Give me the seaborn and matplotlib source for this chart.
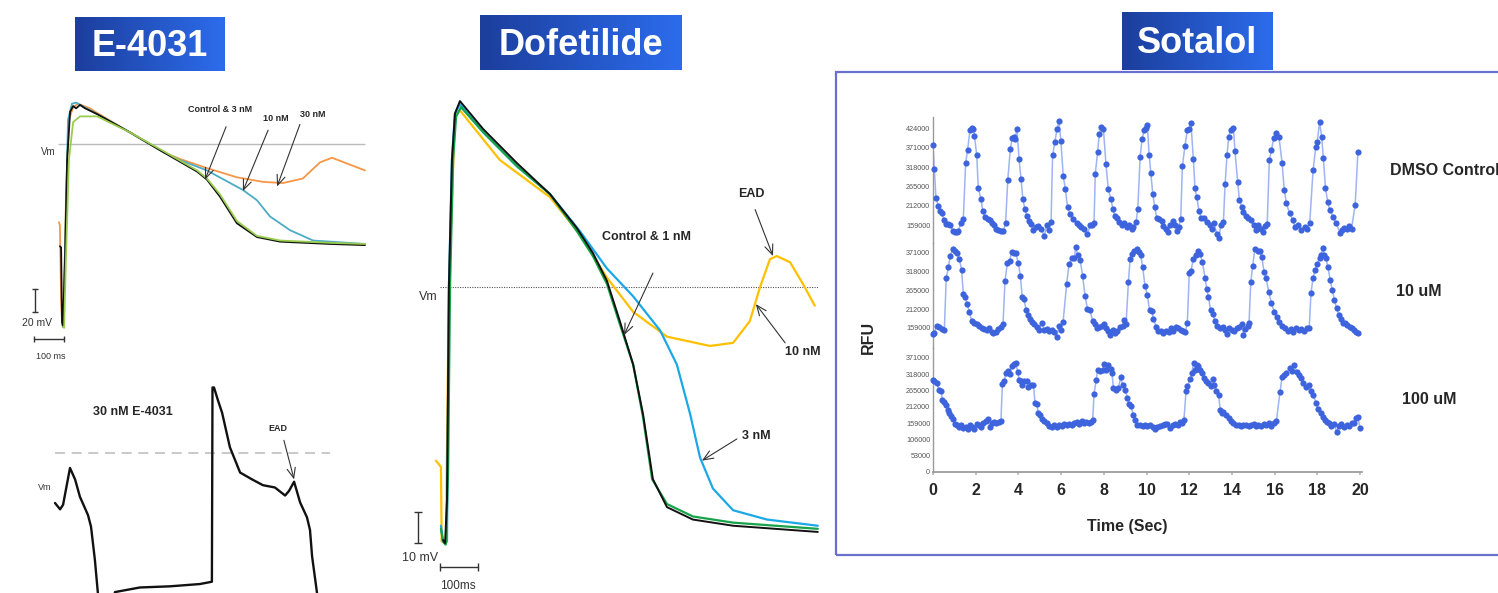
import numpy as np
import pandas as pd
import matplotlib
matplotlib.use("Agg")
import matplotlib.pyplot as plt
from matplotlib.patches import Rectangle
from matplotlib.colors import LinearSegmentedColormap
import seaborn as sns

W, H = 1498, 593

# ---------------- E-4031 traces (time ms, voltage mV, Vm line = 0 mV) ----------------
e4031_ctrl_t = [-7, -3, 0, 3, 10, 17, 27, 37, 47, 60, 77, 117, 227, 337, 450, 483, 527, 583, 650, 727, 893, 1010]
e4031_ctrl_v = [-89, -90, -155, -159, -101, -14, 28, 33, 31, 34, 31, 26, 10, -7, -24, -31, -46, -69, -81, -85, -87, -88]
e4031_3nm_t = [3, 7, 13, 23, 37, 60, 117, 227, 337, 450, 483, 527, 583, 650, 727, 893, 1010]
e4031_3nm_v = [-159, -160, -101, -14, 19, 24, 24, 10, -6, -23, -30, -44, -67, -80, -84, -86, -87]
e4031_10nm_t = [3, 10, 20, 33, 47, 67, 117, 227, 337, 393, 483, 603, 650, 693, 760, 837, 1010]
e4031_10nm_v = [-159, -92, 21, 35, 36, 33, 26, 10, -7, -14, -23, -40, -49, -63, -75, -84, -87]
e4031_30nm_t = [-10, -7, -3, 0, 7, 13, 23, 37, 53, 93, 117, 227, 337, 393, 483, 583, 670, 737, 803, 860, 900, 950, 1010]
e4031_30nm_v = [-68, -71, -135, -155, -135, -49, 21, 32, 35, 31, 27, 10, -7, -13, -21, -29, -33, -34, -30, -16, -12, -17, -23]

# 30 nM E-4031 trace with EAD
e4031_ead_t = [0, 17, 27, 50, 67, 83, 110, 120, 133, 143, 150, 190, 200, 283, 383, 483, 523, 525, 530, 543,
               557, 583, 617, 657, 693, 733, 767, 780, 797, 817, 840, 850, 857, 873, 877]
e4031_ead_v = [-43.5, -49, -45, -13, -23, -38, -54, -64, -93, -122, -132, -132, -121, -117, -116, -114, -112, 57, 57, 46,
               35, 5, -17, -23, -28, -30, -37, -33, -25, -43, -56, -67, -90, -121, -132]

# ---------------- Dofetilide traces ----------------
dof_ctrl_t = [-10.5, -5, 0, 5, 13, 21, 34, 95, 184, 271, 342, 384, 421, 455, 490, 516, 542, 579, 647, 753, 976]
dof_ctrl_v = [-81.6, -82.6, -68.7, 0, 41, 56, 60, 51, 40, 30, 19, 11, 2, -11, -25, -41, -62, -71, -75, -77, -79]
dof_1nm_t = [-16, -10.5, -3, 3, 8, 16, 24, 37, 95, 184, 271, 342, 384, 421, 455, 490, 516, 540, 579, 647, 753, 976]
dof_1nm_v = [-78, -82, -83, -59, 0, 41, 55, 58, 50, 39, 30, 18, 10, 1, -12, -25, -42, -62, -70, -74, -76, -78]
dof_3nm_t = [-16, -10.5, -5, 0, 5, 13, 21, 34, 95, 184, 271, 350, 421, 490, 561, 605, 640, 666, 700, 753, 842, 976]
dof_3nm_v = [-77, -82, -83, -82, 0, 41, 56, 59, 50, 39, 30, 18, 6, -3, -14, -25, -41, -55, -65, -72, -75, -77]
dof_10nm_t = [-29, -16, -14, -3, 5, 21, 34, 139, 271, 350, 421, 490, 579, 692, 753, 797, 824, 850, 868, 903, 937, 968]
dof_10nm_v = [-56, -58, -82, -83, 0, 56, 57, 41, 29, 17, 3, -8, -16, -19, -18, -11, 0, 9, 10, 8, 1, -6]

# ---------------- Sotalol calcium transients: (time s, RFU in thousands) ----------------
dmso = [(0.0, 380), (0.06, 313), (0.14, 234), (0.25, 212), (0.33, 198), (0.40, 193), (0.53, 173), (0.62, 162),
        (0.70, 163), (0.80, 160), (0.95, 142), (1.03, 140), (1.11, 141), (1.19, 143), (1.31, 165), (1.42, 177),
        (1.53, 331), (1.62, 365), (1.73, 420), (1.81, 426), (1.89, 424), (1.94, 404), (2.05, 351), (2.12, 261),
        (2.25, 230), (2.33, 197), (2.44, 182), (2.56, 175), (2.67, 173), (2.78, 164), (2.87, 159), (2.95, 150),
        (3.06, 145), (3.18, 142), (3.29, 143), (3.40, 165), (3.50, 282), (3.62, 367), (3.71, 398), (3.78, 402),
        (3.84, 395), (3.93, 424), (4.03, 340), (4.12, 287), (4.21, 230), (4.30, 205), (4.39, 185), (4.50, 170),
        (4.59, 163), (4.70, 145), (4.81, 154), (4.93, 157), (5.06, 150), (5.21, 130), (5.32, 159), (5.43, 145),
        (5.53, 169), (5.60, 351), (5.71, 388), (5.81, 424), (5.90, 444), (5.99, 389), (6.10, 294), (6.20, 258),
        (6.30, 209), (6.41, 191), (6.57, 175), (6.73, 164), (6.84, 159), (6.95, 155), (7.07, 148), (7.23, 134),
        (7.36, 159), (7.45, 159), (7.54, 164), (7.60, 301), (7.71, 360), (7.79, 410), (7.87, 428), (7.98, 424),
        (8.10, 326), (8.21, 258), (8.33, 232), (8.42, 205), (8.51, 185), (8.60, 180), (8.73, 168), (8.84, 159),
        (8.95, 164), (9.07, 155), (9.20, 159), (9.31, 150), (9.38, 155), (9.51, 168), (9.59, 203), (9.70, 347),
        (9.79, 395), (9.89, 420), (9.96, 426), (10.04, 433), (10.12, 353), (10.20, 303), (10.29, 246), (10.38, 209),
        (10.48, 179), (10.60, 175), (10.71, 170), (10.79, 157), (10.91, 150), (11.01, 141), (11.10, 159), (11.23, 170),
        (11.34, 159), (11.42, 143), (11.51, 155), (11.60, 177), (11.68, 322), (11.80, 377), (11.91, 420), (12.00, 423),
        (12.08, 439), (12.19, 342), (12.27, 260), (12.35, 237), (12.46, 197), (12.57, 179), (12.70, 179), (12.82, 168),
        (12.95, 161), (13.06, 150), (13.17, 164), (13.29, 134), (13.38, 124), (13.48, 159), (13.60, 168), (13.68, 273),
        (13.77, 353), (13.85, 402), (13.94, 420), (14.07, 425), (14.14, 363), (14.27, 277), (14.35, 228), (14.46, 209),
        (14.54, 196), (14.66, 185), (14.77, 179), (14.88, 173), (15.01, 159), (15.12, 145), (15.24, 159), (15.35, 150),
        (15.45, 140), (15.55, 158), (15.65, 162), (15.75, 338), (15.85, 365), (15.95, 398), (16.05, 413), (16.20, 402),
        (16.35, 329), (16.45, 256), (16.55, 219), (16.70, 192), (16.85, 174), (16.95, 155), (17.10, 160), (17.25, 146),
        (17.40, 155), (17.52, 150), (17.64, 164), (17.80, 311), (17.93, 375), (18.00, 388), (18.10, 443), (18.20, 402),
        (18.28, 344), (18.38, 261), (18.48, 224), (18.58, 201), (18.73, 183), (18.87, 165), (19.07, 138), (19.17, 145),
        (19.27, 152), (19.40, 148), (19.50, 156), (19.60, 150), (19.77, 215), (19.90, 361)]

sotalol_10um = [(0.0, 142), (0.06, 146), (0.17, 166), (0.28, 161), (0.40, 156), (0.53, 153), (0.62, 301), (0.72, 330),
                (0.81, 363), (0.92, 381), (1.03, 377), (1.12, 371), (1.23, 354), (1.34, 323), (1.42, 255), (1.50, 246),
                (1.61, 226), (1.70, 204), (1.81, 180), (1.92, 172), (2.05, 171), (2.16, 166), (2.28, 159), (2.41, 156),
                (2.52, 153), (2.62, 159), (2.75, 149), (2.83, 144), (2.94, 149), (3.06, 156), (3.17, 163), (3.28, 171),
                (3.37, 291), (3.48, 342), (3.59, 349), (3.68, 373), (3.78, 371), (3.87, 371), (4.00, 342), (4.09, 305),
                (4.18, 246), (4.26, 240), (4.36, 211), (4.47, 195), (4.54, 185), (4.65, 175), (4.75, 169), (4.86, 161),
                (4.97, 153), (5.09, 172), (5.21, 153), (5.32, 156), (5.43, 151), (5.56, 153), (5.67, 149), (5.79, 134),
                (5.90, 166), (5.99, 153), (6.09, 175), (6.26, 284), (6.37, 339), (6.50, 356), (6.62, 358), (6.68, 387),
                (6.78, 365), (6.89, 352), (7.01, 305), (7.12, 250), (7.23, 214), (7.35, 209), (7.48, 178), (7.59, 169),
                (7.70, 159), (7.79, 163), (7.90, 166), (8.01, 171), (8.10, 159), (8.21, 151), (8.29, 140), (8.42, 153),
                (8.53, 146), (8.64, 151), (8.76, 161), (8.88, 166), (8.96, 182), (9.04, 169), (9.15, 288), (9.23, 354),
                (9.32, 368), (9.43, 375), (9.54, 381), (9.64, 373), (9.73, 365), (9.82, 330), (9.93, 277), (10.04, 252),
                (10.14, 209), (10.25, 207), (10.32, 185), (10.45, 163), (10.56, 151), (10.67, 151), (10.79, 146), (10.92, 151),
                (11.03, 149), (11.14, 159), (11.26, 151), (11.38, 163), (11.49, 159), (11.60, 153), (11.72, 151), (11.82, 149),
                (11.91, 172), (12.00, 313), (12.08, 320), (12.19, 354), (12.32, 365), (12.43, 375), (12.51, 368), (12.62, 344),
                (12.74, 301), (12.82, 269), (12.90, 246), (13.00, 209), (13.10, 198), (13.21, 180), (13.32, 166), (13.45, 159),
                (13.57, 163), (13.68, 153), (13.76, 142), (13.88, 159), (13.99, 153), (14.10, 151), (14.23, 159), (14.35, 163),
                (14.46, 171), (14.54, 140), (14.62, 156), (14.74, 166), (14.80, 172), (14.88, 288), (14.97, 334), (15.07, 381),
                (15.20, 375), (15.30, 375), (15.40, 360), (15.50, 318), (15.60, 299), (15.72, 262), (15.85, 229), (15.98, 205),
                (16.10, 190), (16.20, 177), (16.35, 165), (16.50, 158), (16.62, 150), (16.75, 155), (16.88, 148), (17.00, 160),
                (17.12, 152), (17.25, 157), (17.38, 150), (17.50, 158), (17.62, 160), (17.70, 258), (17.80, 300), (17.90, 323),
                (18.00, 340), (18.10, 357), (18.18, 365), (18.25, 385), (18.32, 365), (18.40, 357), (18.50, 330), (18.60, 295),
                (18.70, 265), (18.80, 238), (18.90, 215), (19.00, 196), (19.10, 185), (19.20, 173), (19.30, 172), (19.40, 168),
                (19.52, 162), (19.62, 158), (19.72, 152), (19.82, 149), (19.90, 145)]

sotalol_100um = [(0.0, 300), (0.06, 295), (0.17, 289), (0.28, 268), (0.37, 265), (0.44, 235), (0.53, 228), (0.59, 217),
                 (0.69, 203), (0.75, 192), (0.84, 181), (0.95, 174), (1.03, 156), (1.11, 154), (1.22, 145), (1.31, 152),
                 (1.42, 143), (1.53, 145), (1.62, 141), (1.73, 152), (1.84, 145), (1.94, 141), (2.05, 156), (2.15, 152),
                 (2.25, 145), (2.36, 160), (2.47, 167), (2.56, 171), (2.67, 145), (2.78, 160), (2.87, 163), (2.97, 160),
                 (3.08, 163), (3.18, 165), (3.25, 286), (3.34, 295), (3.40, 322), (3.50, 330), (3.60, 319), (3.68, 344),
                 (3.78, 352), (3.87, 355), (3.97, 326), (4.03, 300), (4.12, 295), (4.18, 282), (4.28, 297), (4.39, 295),
                 (4.47, 276), (4.59, 284), (4.70, 284), (4.78, 225), (4.86, 221), (4.93, 192), (5.00, 187), (5.12, 174),
                 (5.21, 167), (5.32, 160), (5.43, 149), (5.56, 145), (5.68, 152), (5.79, 145), (5.90, 154), (6.03, 149),
                 (6.15, 156), (6.26, 152), (6.37, 156), (6.50, 152), (6.62, 160), (6.73, 163), (6.84, 156), (6.96, 167),
                 (7.09, 160), (7.18, 163), (7.30, 160), (7.41, 163), (7.48, 170), (7.54, 254), (7.64, 298), (7.71, 333),
                 (7.82, 330), (7.94, 333), (8.01, 352), (8.10, 333), (8.21, 349), (8.32, 336), (8.38, 322), (8.45, 273),
                 (8.57, 268), (8.68, 273), (8.79, 308), (8.88, 282), (9.00, 268), (9.10, 241), (9.20, 221), (9.27, 214),
                 (9.38, 187), (9.46, 170), (9.57, 152), (9.70, 152), (9.82, 149), (9.93, 152), (10.04, 149), (10.17, 152),
                 (10.29, 145), (10.40, 141), (10.51, 145), (10.64, 149), (10.76, 154), (10.87, 156), (10.98, 156), (11.10, 143),
                 (11.23, 152), (11.34, 156), (11.45, 154), (11.57, 163), (11.66, 160), (11.75, 170), (11.85, 263), (11.91, 279),
                 (12.04, 301), (12.12, 322), (12.20, 355), (12.28, 333), (12.35, 349), (12.43, 344), (12.51, 333), (12.59, 322),
                 (12.70, 306), (12.79, 295), (12.90, 290), (13.01, 279), (13.10, 301), (13.17, 284), (13.26, 265), (13.37, 252),
                 (13.45, 203), (13.53, 192), (13.60, 195), (13.73, 187), (13.84, 176), (13.95, 167), (14.07, 160), (14.20, 152),
                 (14.31, 154), (14.42, 149), (14.54, 154), (14.67, 152), (14.78, 149), (14.89, 154), (15.01, 156), (15.14, 149),
                 (15.24, 152), (15.36, 150), (15.48, 155), (15.60, 152), (15.72, 158), (15.84, 150), (15.96, 160), (16.08, 165),
                 (16.25, 261), (16.35, 310), (16.45, 315), (16.55, 322), (16.70, 338), (16.80, 330), (16.90, 348), (17.05, 326),
                 (17.15, 315), (17.25, 305), (17.35, 290), (17.45, 278), (17.60, 283), (17.70, 265), (17.80, 250), (17.95, 224),
                 (18.05, 205), (18.15, 192), (18.25, 180), (18.35, 169), (18.45, 163), (18.55, 159), (18.65, 150), (18.78, 155),
                 (18.90, 131), (19.00, 150), (19.12, 155), (19.25, 148), (19.38, 152), (19.50, 150), (19.62, 158), (19.72, 160),
                 (19.80, 176), (19.90, 178), (20.00, 143)]

sotalol_labels = ["DMSO Control", "10 uM", "100 uM"]
sotalol_yticks = [[159, 212, 265, 318, 371, 424], [159, 212, 265, 318, 371], [0, 53, 106, 159, 212, 265, 318, 371]]
sotalol_xticks = [0, 2, 4, 6, 8, 10, 12, 14, 16, 18, 20]

# ---------------- styling ----------------
sns.set_theme(style="white")
plt.rcParams["font.family"] = ["Liberation Sans", "DejaVu Sans"]
C_BLACK, C_GREEN_E, C_BLUE_E, C_ORANGE = "#111111", "#9ACD4E", "#4BACC6", "#F79646"
C_GREEN_D, C_BLUE_D, C_YELLOW = "#16A34A", "#1CA8E6", "#FFC000"
ARROW = dict(arrowstyle="->,head_length=0.6,head_width=0.25", color="#333333", lw=0.8, shrinkA=0, shrinkB=0)

fig = plt.figure(figsize=(W / 100, H / 100), dpi=100)


def px_axes(x0, y0, x1, y1):
    return fig.add_axes([x0 / W, 1 - y1 / H, (x1 - x0) / W, (y1 - y0) / H])


def ftext(x, y, s, **kw):
    fig.text(x / W, 1 - y / H, s, **kw)


def trace(ax, t, v, color, lw=1.3):
    sns.lineplot(x=t, y=v, ax=ax, color=color, lw=lw, sort=False, estimator=None)


def title_box(x0, y0, x1, y1, text):
    ax = px_axes(x0, y0, x1, y1)
    cmap = LinearSegmentedColormap.from_list("tb", ["#1c3e9c", "#2c6cec"])
    ax.imshow(np.linspace(0, 1, 256).reshape(1, -1), aspect="auto", cmap=cmap, extent=[0, 1, 0, 1])
    ax.text(0.5, 0.45, text, color="white", fontsize=26, fontweight="bold", ha="center", va="center")
    ax.axis("off")


# ---------------- E-4031 top ----------------
ax = px_axes(30, 95, 370, 365)
ax.set_xlim(-106.7, 1026.7)
ax.set_ylim(-192.3, 42.6)
ax.hlines(0, -13, 1010, color="#bbbbbb", lw=1)
trace(ax, e4031_30nm_t, e4031_30nm_v, C_ORANGE)
trace(ax, e4031_10nm_t, e4031_10nm_v, C_BLUE_E)
trace(ax, e4031_ctrl_t, e4031_ctrl_v, C_BLACK)
trace(ax, e4031_3nm_t, e4031_3nm_v, C_GREEN_E)
ax.text(-47, -7, "Vm", fontsize=7, ha="center", va="center", color="#333")
ax.text(527, 30, "Control & 3 nM", fontsize=6.5, fontweight="bold", ha="center", va="center")
ax.text(713, 22, "10 nM", fontsize=6.5, fontweight="bold", ha="center", va="center")
ax.text(837, 26, "30 nM", fontsize=6.5, fontweight="bold", ha="center", va="center")
ax.annotate("", xy=(477, -31), xytext=(547, 15), arrowprops=ARROW)
ax.annotate("", xy=(603, -41), xytext=(687, 12), arrowprops=ARROW)
ax.annotate("", xy=(717, -37), xytext=(793, 17), arrowprops=ARROW)
ax.plot([-90, -90], [-126, -146], color="#333", lw=1, marker="_", ms=5)
ax.text(-83, -156, "20 mV", fontsize=7.5, ha="center", va="center", color="#333")
ax.plot([-93, 7], [-170, -170], color="#333", lw=1, marker="|", ms=5)
ax.text(-37, -185, "100 ms", fontsize=6.5, ha="center", va="center", color="#333")
ax.axis("off")

# ---------------- E-4031 bottom ----------------
ax = px_axes(30, 370, 370, 593)
ax.set_xlim(-83.3, 1050)
ax.set_ylim(-121.8, 72.2)
ax.hlines(0, 0, 917, color="#c0c0c0", lw=1.2, linestyles=(0, (6, 4)))
trace(ax, e4031_ead_t, e4031_ead_v, C_BLACK, lw=1.7)
ax.text(260, 36, "30 nM E-4031", fontsize=9, fontweight="bold", ha="center", va="center")
ax.text(743, 21, "EAD", fontsize=6.5, fontweight="bold", ha="center", va="center")
ax.annotate("", xy=(797, -23), xytext=(763, 11), arrowprops=ARROW)
ax.text(-33, -30, "Vm", fontsize=6.5, ha="center", va="center", color="#333")
ax.axis("off")

# ---------------- Dofetilide ----------------
ax = px_axes(400, 80, 830, 593)
ax.set_xlim(-123.7, 1008.1)
ax.set_ylim(-98.7, 66.8)
ax.hlines(0, -18, 976, color="#555555", lw=0.8, linestyles=(0, (1, 1.2)))
trace(ax, dof_10nm_t, dof_10nm_v, C_YELLOW, lw=1.6)
trace(ax, dof_3nm_t, dof_3nm_v, C_BLUE_D, lw=1.6)
trace(ax, dof_1nm_t, dof_1nm_v, C_GREEN_D, lw=1.6)
trace(ax, dof_ctrl_t, dof_ctrl_v, C_BLACK, lw=1.4)
ax.text(-50, -3.2, "Vm", fontsize=9, ha="center", va="center", color="#333")
ax.text(526, 16, "Control & 1 nM", fontsize=9, fontweight="bold", ha="center", va="center")
ax.annotate("", xy=(466, -15.5), xytext=(542, 4.5), arrowprops=ARROW)
ax.text(800, 30, "EAD", fontsize=9, fontweight="bold", ha="center", va="center")
ax.annotate("", xy=(858, 10), xytext=(811, 25), arrowprops=ARROW)
ax.text(937, -21, "10 nM", fontsize=9, fontweight="bold", ha="center", va="center")
ax.annotate("", xy=(813, -5.5), xytext=(890, -18), arrowprops=ARROW)
ax.text(813, -48, "3 nM", fontsize=9, fontweight="bold", ha="center", va="center")
ax.annotate("", xy=(671, -56), xytext=(763, -49), arrowprops=ARROW)
ax.plot([-76, -76], [-72.6, -82.6], color="#333", lw=1, marker="_", ms=6)
ax.text(-71, -87.4, "10 mV", fontsize=9, ha="center", va="center", color="#333")
ax.plot([-18, 82], [-90.3, -90.3], color="#333", lw=1, marker="|", ms=6)
ax.text(29, -96.5, "100ms", fontsize=8.5, ha="center", va="center", color="#333")
ax.axis("off")

# ---------------- Sotalol ----------------
fig.add_artist(Rectangle((836 / W, 1 - 555 / H), (1510 - 836) / W, (555 - 72) / H,
                         transform=fig.transFigure, fill=False, ec="#6a6ecf", lw=1.6))

series = [dmso, sotalol_10um, sotalol_100um]
rows = [(117, 243, (110.4, 456)), (243, 348, (102.5, 399)), (348, 472, (0, 403.5))]
for i, (data, (y0, y1, ylim)) in enumerate(zip(series, rows)):
    df = pd.DataFrame(data, columns=["t", "rfu_k"])
    df["rfu"] = df["rfu_k"] * 1000
    ax = px_axes(933, y0, 1362, y1)
    ax.set_facecolor("none")
    sns.lineplot(data=df, x="t", y="rfu", ax=ax, color="#9fb4f2", lw=1.1, sort=False, estimator=None)
    sns.scatterplot(data=df, x="t", y="rfu", ax=ax, color="#3d64dd", s=20, linewidth=0, clip_on=False, zorder=3)
    ax.set_xlim(0, 20.09)
    ax.set_ylim(ylim[0] * 1000, ylim[1] * 1000)
    ax.set_yticks([v * 1000 for v in sotalol_yticks[i]])
    ax.set_yticklabels([str(v * 1000) for v in sotalol_yticks[i]], fontsize=5.2, color="#555555")
    ax.tick_params(axis="y", length=0, pad=2)
    ax.set_xlabel("")
    ax.set_ylabel("")
    for side in ["top", "right", "bottom"]:
        ax.spines[side].set_visible(False)
    ax.spines["left"].set_color("#999999")
    ax.spines["left"].set_linewidth(1)
    if i == 2:
        ax.spines["bottom"].set_visible(True)
        ax.spines["bottom"].set_color("#999999")
        ax.set_xticks(sotalol_xticks)
        ax.set_xticklabels([str(v) for v in sotalol_xticks], fontsize=11.5, fontweight="bold")
        ax.tick_params(axis="x", length=2, color="#bbbbbb", pad=6, bottom=True)
    else:
        ax.set_xticks([])

ftext(868, 337, "RFU", fontsize=11.5, fontweight="bold", rotation=90, ha="center", va="center")
ftext(1127, 527, "Time (Sec)", fontsize=11.5, fontweight="bold", ha="center", va="center")
for label, (lx, ly) in zip(sotalol_labels, [(1390, 170), (1396, 292), (1402, 400)]):
    ftext(lx, ly, label, fontsize=11.5, fontweight="bold", ha="left", va="center")

# ---------------- title boxes ----------------
title_box(75, 17, 225, 71, "E-4031")
title_box(480, 15, 682, 70, "Dofetilide")
title_box(1122, 12, 1273, 70, "Sotalol")

fig.savefig("out.png", dpi=100)
